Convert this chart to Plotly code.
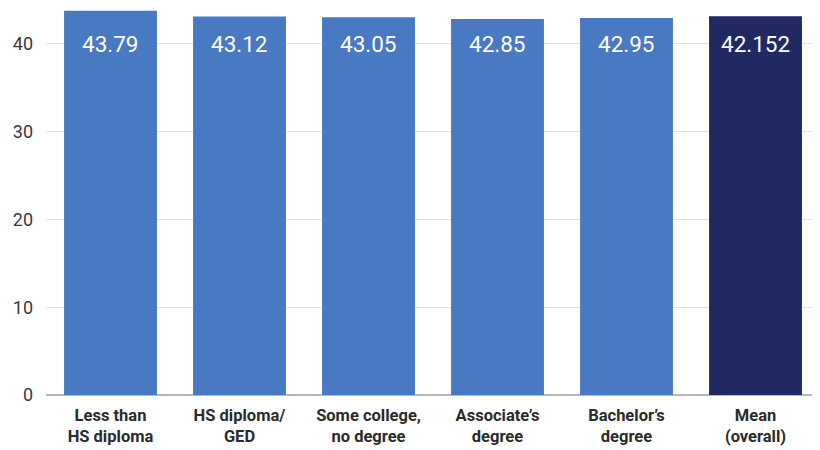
import plotly.graph_objects as go

categories = ["Less than<br>HS diploma", "HS diploma/<br>GED", "Some college,<br>no degree",
              "Associate’s<br>degree", "Bachelor’s<br>degree", "Mean<br>(overall)"]
values = [43.79, 43.12, 43.05, 42.85, 42.95, 43.152]
value_labels = ["43.79", "43.12", "43.05", "42.85", "42.95", "42.152"]
bar_colors = ["#4879c2", "#4879c2", "#4879c2", "#4879c2", "#4879c2", "#212963"]
y_ticks = [0, 10, 20, 30, 40]
label_level = 40  # labels sit on a common line inside the bars

fig = go.Figure()
fig.add_trace(go.Bar(x=categories, y=values, marker=dict(color=bar_colors, line=dict(width=0)),
                     hoverinfo="skip"))

for c, t in zip(categories, value_labels):
    fig.add_annotation(x=c, y=label_level, text=t, showarrow=False, yanchor="middle",
                       font=dict(family="Roboto", size=22.5, color="white"))

fig.update_layout(
    width=820, height=450,
    margin=dict(l=38, r=8, t=0, b=63, autoexpand=False),
    paper_bgcolor="white", plot_bgcolor="white",
    bargap=0.28,
    showlegend=False,
    font=dict(family="Roboto", color="#333333"),
)
fig.update_xaxes(
    tickfont=dict(family="Roboto", size=16.5, color="#2b2b2b"),
    tickprefix="<b>", ticksuffix="</b>",
    showgrid=False, showline=False, ticks="", ticklabelstandoff=8,
)
fig.update_yaxes(
    range=[0, 44.09], tickvals=y_ticks, ticktext=[str(v) for v in y_ticks],
    tickfont=dict(family="Roboto", size=18, color="#3a3a3a"),
    showgrid=True, gridcolor="#e3e3e3", gridwidth=1,
    zeroline=True, zerolinecolor="#b8b8b8", zerolinewidth=1.5,
    showline=False, ticks="", ticklabelstandoff=12,
)

fig.write_html("out.html")
